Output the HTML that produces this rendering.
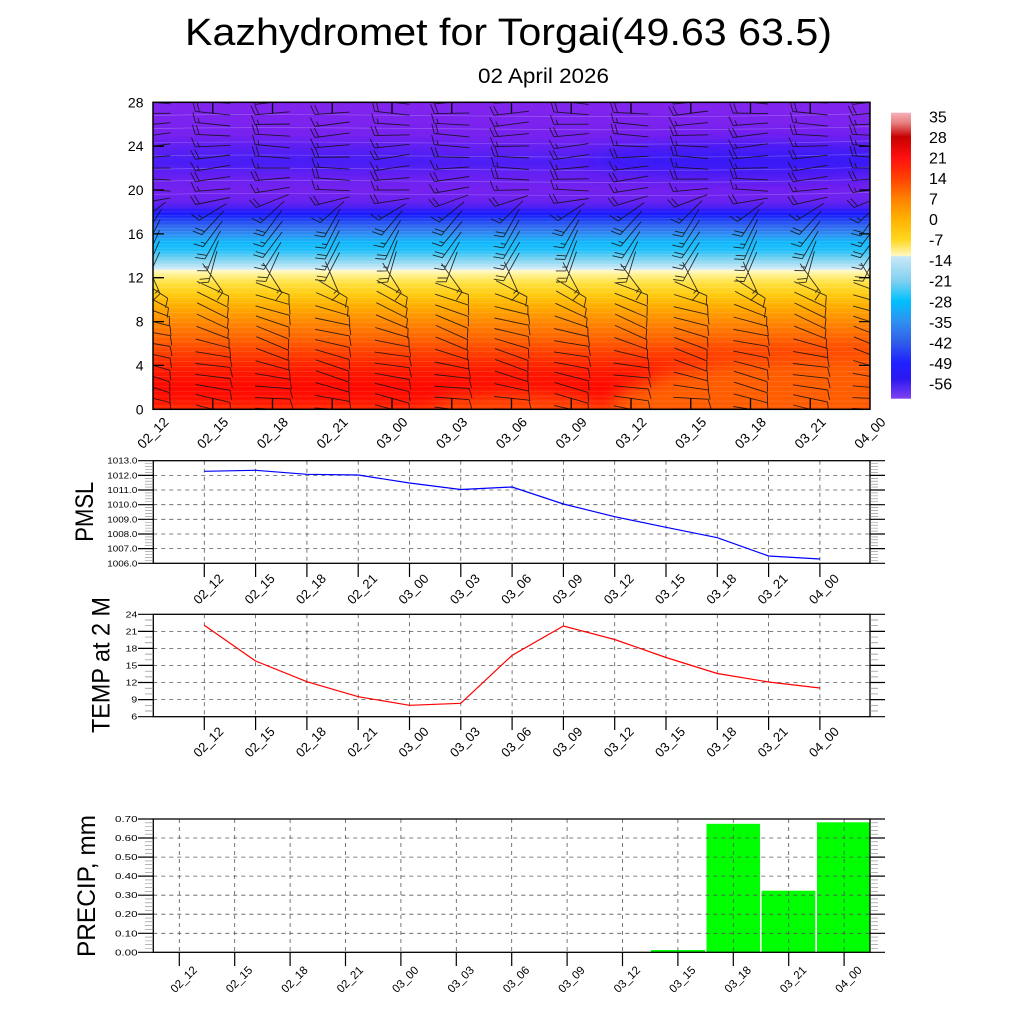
<!DOCTYPE html>
<html>
<head>
<meta charset="utf-8">
<style>
html,body{margin:0;padding:0;background:#fff;}
svg{display:block;}
text{font-family:"Liberation Sans",Arial,sans-serif;fill:#000;}
</style>
</head>
<body>
<svg xmlns="http://www.w3.org/2000/svg" width="1024" height="1024" viewBox="0 0 1024 1024">
<defs>
<linearGradient id="tg" x1="0" y1="0" x2="0" y2="1">
<stop offset="0" stop-color="#8224ee"/>
<stop offset="0.1071" stop-color="#7822ef"/>
<stop offset="0.1607" stop-color="#5e20f3"/>
<stop offset="0.1964" stop-color="#4c1ef6"/>
<stop offset="0.2321" stop-color="#6420f2"/>
<stop offset="0.2857" stop-color="#7622ef"/>
<stop offset="0.3214" stop-color="#6a22f0"/>
<stop offset="0.3429" stop-color="#4a20f4"/>
<stop offset="0.3536" stop-color="#2818fa"/>
<stop offset="0.3643" stop-color="#1818ff"/>
<stop offset="0.3821" stop-color="#2040f4"/>
<stop offset="0.4107" stop-color="#3070f0"/>
<stop offset="0.4357" stop-color="#2a98f4"/>
<stop offset="0.4571" stop-color="#10b8fc"/>
<stop offset="0.4821" stop-color="#20c0fa"/>
<stop offset="0.5071" stop-color="#70d0f2"/>
<stop offset="0.5286" stop-color="#a8e0f4"/>
<stop offset="0.5446" stop-color="#d8eef8"/>
<stop offset="0.5464" stop-color="#fffad0"/>
<stop offset="0.5643" stop-color="#fff088"/>
<stop offset="0.5893" stop-color="#ffe040"/>
<stop offset="0.625" stop-color="#ffcc10"/>
<stop offset="0.6607" stop-color="#ffb000"/>
<stop offset="0.6964" stop-color="#ff9600"/>
<stop offset="0.7321" stop-color="#ff7c00"/>
<stop offset="0.7679" stop-color="#ff6400"/>
<stop offset="0.8036" stop-color="#ff4800"/>
<stop offset="0.8393" stop-color="#ff3000"/>
<stop offset="0.875" stop-color="#ff1a00"/>
<stop offset="0.9286" stop-color="#ff0800"/>
<stop offset="0.9643" stop-color="#ff1000"/>
<stop offset="1" stop-color="#ff2a00"/>
</linearGradient>
<linearGradient id="cb" x1="0" y1="0" x2="0" y2="1">
<stop offset="0" stop-color="#f6b0b8"/>
<stop offset="0.035" stop-color="#e88080"/>
<stop offset="0.085" stop-color="#c80000"/>
<stop offset="0.158" stop-color="#ff1010"/>
<stop offset="0.228" stop-color="#ff4000"/>
<stop offset="0.30" stop-color="#ff8000"/>
<stop offset="0.37" stop-color="#ffb000"/>
<stop offset="0.445" stop-color="#ffd820"/>
<stop offset="0.50" stop-color="#fff8c0"/>
<stop offset="0.503" stop-color="#c8e8f8"/>
<stop offset="0.588" stop-color="#80d0f0"/>
<stop offset="0.659" stop-color="#00c0ff"/>
<stop offset="0.73" stop-color="#3090f0"/>
<stop offset="0.80" stop-color="#3060e8"/>
<stop offset="0.875" stop-color="#2020ff"/>
<stop offset="0.93" stop-color="#2a18f0"/>
<stop offset="1" stop-color="#8040f0"/>
</linearGradient>
<clipPath id="tc"><rect x="153" y="102.3" width="717" height="307"/></clipPath>
<filter id="bl" x="-50%" y="-50%" width="200%" height="200%"><feGaussianBlur stdDeviation="9"/></filter>
</defs>

<!-- Titles -->
<text x="185" y="45" font-size="38" textLength="647" lengthAdjust="spacingAndGlyphs">Kazhydromet for Torgai(49.63 63.5)</text>
<text x="478" y="83" font-size="21" textLength="131" lengthAdjust="spacingAndGlyphs">02 April 2026</text>

<!-- Top panel -->
<rect x="153" y="102.3" width="717" height="307" fill="url(#tg)"/>
<g clip-path="url(#tc)">
  <path d="M600 420 L620 392 L670 372 L730 360 L800 356 L880 352 L880 420 Z" fill="#ff6200" opacity="0.95" filter="url(#bl)"/>
  <path d="M420 420 L450 398 L520 392 L590 398 L600 420 Z" fill="#ff5800" opacity="0.7" filter="url(#bl)"/>
  <ellipse cx="760" cy="160" rx="170" ry="18" fill="#2a18f8" opacity="0.6" filter="url(#bl)"/>
  <ellipse cx="300" cy="156" rx="150" ry="10" fill="#3a1cf6" opacity="0.4" filter="url(#bl)"/>
  <g id="cont" stroke="#ffffff" fill="none" stroke-width="0.7"></g>
  <g id="barbs"></g>
</g>
<rect x="153" y="102.3" width="717" height="307" fill="none" stroke="#000" stroke-width="1.5"/>
<path d="M212.75 102.3v11M272.5 102.3v11M332.25 102.3v11M392 102.3v11M451.75 102.3v11M511.5 102.3v11M571.25 102.3v11M631 102.3v11M690.75 102.3v11M750.5 102.3v11M810.25 102.3v11M212.75 409.3v-11M272.5 409.3v-11M332.25 409.3v-11M392 409.3v-11M451.75 409.3v-11M511.5 409.3v-11M571.25 409.3v-11M631 409.3v-11M690.75 409.3v-11M750.5 409.3v-11M810.25 409.3v-11M153 365.4h11M153 321.6h11M153 277.7h11M153 233.9h11M153 190h11M153 146.2h11M870 365.4h-11M870 321.6h-11M870 277.7h-11M870 233.9h-11M870 190h-11M870 146.2h-11" stroke="#000" stroke-width="1.3" fill="none"/>

<g font-size="14" text-anchor="end">
<text x="143.5" y="414.3">0</text>
<text x="143.5" y="370.4">4</text>
<text x="143.5" y="326.6">8</text>
<text x="143.5" y="282.7">12</text>
<text x="143.5" y="238.9">16</text>
<text x="143.5" y="195">20</text>
<text x="143.5" y="151.2">24</text>
<text x="143.5" y="107.3">28</text>
</g>
<g font-size="13.5" text-anchor="middle" dominant-baseline="central">
<text transform="translate(153,433) rotate(-45)">02_12</text>
<text transform="translate(212.75,433) rotate(-45)">02_15</text>
<text transform="translate(272.5,433) rotate(-45)">02_18</text>
<text transform="translate(332.25,433) rotate(-45)">02_21</text>
<text transform="translate(392,433) rotate(-45)">03_00</text>
<text transform="translate(451.75,433) rotate(-45)">03_03</text>
<text transform="translate(511.5,433) rotate(-45)">03_06</text>
<text transform="translate(571.25,433) rotate(-45)">03_09</text>
<text transform="translate(631,433) rotate(-45)">03_12</text>
<text transform="translate(690.75,433) rotate(-45)">03_15</text>
<text transform="translate(750.5,433) rotate(-45)">03_18</text>
<text transform="translate(810.25,433) rotate(-45)">03_21</text>
<text transform="translate(870,433) rotate(-45)">04_00</text>
</g>

<!-- Colorbar -->
<rect x="891" y="112.7" width="20" height="286" fill="url(#cb)"/>
<g font-size="16">
<text x="929" y="122.3">35</text>
<text x="929" y="142.85">28</text>
<text x="929" y="163.4">21</text>
<text x="929" y="183.95">14</text>
<text x="929" y="204.5">7</text>
<text x="929" y="225.05">0</text>
<text x="929" y="245.6">-7</text>
<text x="929" y="266.15">-14</text>
<text x="929" y="286.7">-21</text>
<text x="929" y="307.25">-28</text>
<text x="929" y="327.8">-35</text>
<text x="929" y="348.35">-42</text>
<text x="929" y="368.9">-49</text>
<text x="929" y="389.45">-56</text>
</g>

<!-- PMSL panel -->
<path d="M204.3 460.7V563.3M255.6 460.7V563.3M306.9 460.7V563.3M358.2 460.7V563.3M409.5 460.7V563.3M460.8 460.7V563.3M512.1 460.7V563.3M563.4 460.7V563.3M614.7 460.7V563.3M666 460.7V563.3M717.3 460.7V563.3M768.6 460.7V563.3M819.9 460.7V563.3M153.3 475.4H870M153.3 490H870M153.3 504.7H870M153.3 519.3H870M153.3 534H870M153.3 548.6H870" stroke="#555" stroke-width="0.8" stroke-dasharray="4,4" fill="none"/>
<polyline points="204.3,471.3 255.6,470.3 306.9,474.3 358.2,475 409.5,483 460.8,489.5 512.1,487 563.4,504 614.7,516.7 666,527.3 717.3,537.7 768.6,556 819.9,559" fill="none" stroke="#0000ff" stroke-width="1.2"/>
<rect x="153.3" y="460.7" width="716.7" height="102.6" fill="none" stroke="#000" stroke-width="1.3"/>
<path d="M204.3 563.3V577M255.6 563.3V577M306.9 563.3V577M358.2 563.3V577M409.5 563.3V577M460.8 563.3V577M512.1 563.3V577M563.4 563.3V577M614.7 563.3V577M666 563.3V577M717.3 563.3V577M768.6 563.3V577M819.9 563.3V577M138 460.7H153.3M138 475.4H153.3M138 490H153.3M138 504.7H153.3M138 519.3H153.3M138 534H153.3M138 548.6H153.3M138 563.3H153.3M870 460.7H885M870 475.4H885M870 490H885M870 504.7H885M870 519.3H885M870 534H885M870 548.6H885M870 563.3H885" stroke="#000" stroke-width="1.2" fill="none"/>
<g id="minP" stroke="#888" stroke-width="0.6"></g>
<g font-size="8" text-anchor="end">
<text x="137.3" y="463.7" textLength="30" lengthAdjust="spacingAndGlyphs">1013.0</text>
<text x="137.3" y="478.4" textLength="30" lengthAdjust="spacingAndGlyphs">1012.0</text>
<text x="137.3" y="493" textLength="30" lengthAdjust="spacingAndGlyphs">1011.0</text>
<text x="137.3" y="507.7" textLength="30" lengthAdjust="spacingAndGlyphs">1010.0</text>
<text x="137.3" y="522.3" textLength="30" lengthAdjust="spacingAndGlyphs">1009.0</text>
<text x="137.3" y="537" textLength="30" lengthAdjust="spacingAndGlyphs">1008.0</text>
<text x="137.3" y="551.6" textLength="30" lengthAdjust="spacingAndGlyphs">1007.0</text>
<text x="137.3" y="566.3" textLength="30" lengthAdjust="spacingAndGlyphs">1006.0</text>
</g>
<g font-size="13" text-anchor="middle" dominant-baseline="central">
<text transform="translate(208.3,589) rotate(-45)">02_12</text>
<text transform="translate(259.6,589) rotate(-45)">02_15</text>
<text transform="translate(310.9,589) rotate(-45)">02_18</text>
<text transform="translate(362.2,589) rotate(-45)">02_21</text>
<text transform="translate(413.5,589) rotate(-45)">03_00</text>
<text transform="translate(464.8,589) rotate(-45)">03_03</text>
<text transform="translate(516.1,589) rotate(-45)">03_06</text>
<text transform="translate(567.4,589) rotate(-45)">03_09</text>
<text transform="translate(618.7,589) rotate(-45)">03_12</text>
<text transform="translate(670,589) rotate(-45)">03_15</text>
<text transform="translate(721.3,589) rotate(-45)">03_18</text>
<text transform="translate(772.6,589) rotate(-45)">03_21</text>
<text transform="translate(823.9,589) rotate(-45)">04_00</text>
</g>
<text transform="translate(93,511.7) rotate(-90)" font-size="25" text-anchor="middle" textLength="60" lengthAdjust="spacingAndGlyphs">PMSL</text>

<!-- TEMP panel -->
<path d="M204.3 614.3V716.7M255.6 614.3V716.7M306.9 614.3V716.7M358.2 614.3V716.7M409.5 614.3V716.7M460.8 614.3V716.7M512.1 614.3V716.7M563.4 614.3V716.7M614.7 614.3V716.7M666 614.3V716.7M717.3 614.3V716.7M768.6 614.3V716.7M819.9 614.3V716.7M153.3 631.4H870M153.3 648.4H870M153.3 665.4H870M153.3 682.5H870M153.3 699.6H870" stroke="#555" stroke-width="0.8" stroke-dasharray="4,4" fill="none"/>
<polyline points="204.3,625.3 255.6,661 306.9,681.7 358.2,696.7 409.5,705.3 460.8,703.3 512.1,655.3 563.4,626 614.7,639.5 666,657.5 717.3,673.5 768.6,682 819.9,688" fill="none" stroke="#ff0000" stroke-width="1.2"/>
<rect x="153.3" y="614.3" width="716.7" height="102.4" fill="none" stroke="#000" stroke-width="1.3"/>
<path d="M204.3 716.7V730M255.6 716.7V730M306.9 716.7V730M358.2 716.7V730M409.5 716.7V730M460.8 716.7V730M512.1 716.7V730M563.4 716.7V730M614.7 716.7V730M666 716.7V730M717.3 716.7V730M768.6 716.7V730M819.9 716.7V730M138 614.3H153.3M138 631.4H153.3M138 648.4H153.3M138 665.4H153.3M138 682.5H153.3M138 699.6H153.3M138 716.7H153.3M870 614.3H885M870 631.4H885M870 648.4H885M870 665.4H885M870 682.5H885M870 699.6H885M870 716.7H885" stroke="#000" stroke-width="1.2" fill="none"/>
<g id="minT" stroke="#888" stroke-width="0.7"></g>
<g font-size="8" text-anchor="end">
<text x="137.3" y="617.3" textLength="11.6" lengthAdjust="spacingAndGlyphs">24</text>
<text x="137.3" y="634.4" textLength="11.6" lengthAdjust="spacingAndGlyphs">21</text>
<text x="137.3" y="651.4" textLength="11.6" lengthAdjust="spacingAndGlyphs">18</text>
<text x="137.3" y="668.4" textLength="11.6" lengthAdjust="spacingAndGlyphs">15</text>
<text x="137.3" y="685.5" textLength="11.6" lengthAdjust="spacingAndGlyphs">12</text>
<text x="137.3" y="702.6" textLength="6" lengthAdjust="spacingAndGlyphs">9</text>
<text x="137.3" y="719.7" textLength="6" lengthAdjust="spacingAndGlyphs">6</text>
</g>
<g font-size="13" text-anchor="middle" dominant-baseline="central">
<text transform="translate(208.3,742) rotate(-45)">02_12</text>
<text transform="translate(259.6,742) rotate(-45)">02_15</text>
<text transform="translate(310.9,742) rotate(-45)">02_18</text>
<text transform="translate(362.2,742) rotate(-45)">02_21</text>
<text transform="translate(413.5,742) rotate(-45)">03_00</text>
<text transform="translate(464.8,742) rotate(-45)">03_03</text>
<text transform="translate(516.1,742) rotate(-45)">03_06</text>
<text transform="translate(567.4,742) rotate(-45)">03_09</text>
<text transform="translate(618.7,742) rotate(-45)">03_12</text>
<text transform="translate(670,742) rotate(-45)">03_15</text>
<text transform="translate(721.3,742) rotate(-45)">03_18</text>
<text transform="translate(772.6,742) rotate(-45)">03_21</text>
<text transform="translate(823.9,742) rotate(-45)">04_00</text>
</g>
<text transform="translate(109.5,665) rotate(-90)" font-size="25" text-anchor="middle" textLength="136" lengthAdjust="spacingAndGlyphs">TEMP at 2 M</text>

<!-- PRECIP panel -->
<g fill="#00ff00">
<rect x="651" y="950" width="54" height="2.3"/>
<rect x="706.5" y="823.8" width="53.5" height="128.5"/>
<rect x="761.6" y="890.7" width="53.7" height="61.6"/>
<rect x="817" y="822.3" width="53" height="130"/>
</g>
<path d="M179.3 819V952.3M234.7 819V952.3M290.1 819V952.3M345.5 819V952.3M400.9 819V952.3M456.3 819V952.3M511.7 819V952.3M567.1 819V952.3M622.5 819V952.3M677.9 819V952.3M733.3 819V952.3M788.7 819V952.3M844.1 819V952.3M153.3 838H870M153.3 857.1H870M153.3 876.1H870M153.3 895.2H870M153.3 914.2H870M153.3 933.3H870" stroke="#555" stroke-width="0.8" stroke-dasharray="4,4" fill="none"/>
<rect x="153.3" y="819" width="716.7" height="133.3" fill="none" stroke="#000" stroke-width="1.3"/>
<path d="M179.3 952.3V966M234.7 952.3V966M290.1 952.3V966M345.5 952.3V966M400.9 952.3V966M456.3 952.3V966M511.7 952.3V966M567.1 952.3V966M622.5 952.3V966M677.9 952.3V966M733.3 952.3V966M788.7 952.3V966M844.1 952.3V966M138 819H153.3M138 838H153.3M138 857.1H153.3M138 876.1H153.3M138 895.2H153.3M138 914.2H153.3M138 933.3H153.3M138 952.3H153.3M870 819H885M870 838H885M870 857.1H885M870 876.1H885M870 895.2H885M870 914.2H885M870 933.3H885M870 952.3H885" stroke="#000" stroke-width="1.2" fill="none"/>
<g id="minR" stroke="#888" stroke-width="0.6"></g>
<g font-size="8" text-anchor="end">
<text x="137.5" y="822" textLength="22.5" lengthAdjust="spacingAndGlyphs">0.70</text>
<text x="137.5" y="841" textLength="22.5" lengthAdjust="spacingAndGlyphs">0.60</text>
<text x="137.5" y="860.1" textLength="22.5" lengthAdjust="spacingAndGlyphs">0.50</text>
<text x="137.5" y="879.1" textLength="22.5" lengthAdjust="spacingAndGlyphs">0.40</text>
<text x="137.5" y="898.2" textLength="22.5" lengthAdjust="spacingAndGlyphs">0.30</text>
<text x="137.5" y="917.2" textLength="22.5" lengthAdjust="spacingAndGlyphs">0.20</text>
<text x="137.5" y="936.3" textLength="22.5" lengthAdjust="spacingAndGlyphs">0.10</text>
<text x="137.5" y="955.3" textLength="22.5" lengthAdjust="spacingAndGlyphs">0.00</text>
</g>
<g font-size="11.5" text-anchor="middle" dominant-baseline="central">
<text transform="translate(184.3,980) rotate(-45)">02_12</text>
<text transform="translate(239.7,980) rotate(-45)">02_15</text>
<text transform="translate(295.1,980) rotate(-45)">02_18</text>
<text transform="translate(350.5,980) rotate(-45)">02_21</text>
<text transform="translate(405.9,980) rotate(-45)">03_00</text>
<text transform="translate(461.3,980) rotate(-45)">03_03</text>
<text transform="translate(516.7,980) rotate(-45)">03_06</text>
<text transform="translate(572.1,980) rotate(-45)">03_09</text>
<text transform="translate(627.5,980) rotate(-45)">03_12</text>
<text transform="translate(682.9,980) rotate(-45)">03_15</text>
<text transform="translate(738.3,980) rotate(-45)">03_18</text>
<text transform="translate(793.7,980) rotate(-45)">03_21</text>
<text transform="translate(849.1,980) rotate(-45)">04_00</text>
</g>
<text transform="translate(95,886) rotate(-90)" font-size="25" text-anchor="middle" textLength="142" lengthAdjust="spacingAndGlyphs">PRECIP, mm</text>
</svg>

<script>
(function(){
  var NS="http://www.w3.org/2000/svg";
  function addPath(gid,d,attrs){
    var g=document.getElementById(gid);
    var p=document.createElementNS(NS,"path");
    p.setAttribute("d",d);
    if(attrs){for(var k in attrs){p.setAttribute(k,attrs[k]);}}
    g.appendChild(p);
  }
  function ang(z){
    var k=[[0,8],[3,12],[6,16],[9,20],[11,26],[12,60],[13,112],[15,120],[17,126],[18,142],[19,165],[20,177],[28,180]];
    for(var j=0;j<k.length-1;j++){
      if(z<=k[j+1][0]){var t=(z-k[j][0])/(k[j+1][0]-k[j][0]);return k[j][1]+t*(k[j+1][1]-k[j][1]);}
    }
    return 180;
  }
  var d="";
  for(var i=0;i<13;i++){
    var cx=153+59.75*i;
    for(var z=0;z<=28;z++){
      var cy=409.3-z*10.964;
      var th=(ang(z)+Math.sin(i*1.9+z*0.7)*7)*Math.PI/180;
      var ux=Math.cos(th),uy=Math.sin(th);
      var L=(z>=13&&z<19)?32:35,h=L/2;
      var ex=cx+h*ux,ey=cy+h*uy;
      d+="M"+(cx-h*ux).toFixed(1)+" "+(cy-h*uy).toFixed(1)+"L"+ex.toFixed(1)+" "+ey.toFixed(1);
      var fa=th+70*Math.PI/180,fx=Math.cos(fa),fy=Math.sin(fa);
      var nf=(z>=12)?2:1;
      for(var k=0;k<nf;k++){
        var px=ex-k*4*ux,py=ey-k*4*uy;
        var fl=(k==nf-1&&nf>1&&z%2==0)?5:10;
        d+="M"+px.toFixed(1)+" "+py.toFixed(1)+"l"+(fl*fx).toFixed(1)+" "+(fl*fy).toFixed(1);
      }
    }
  }
  addPath("barbs",d,{stroke:"#111",fill:"none","stroke-width":"0.9","stroke-opacity":"0.85"});
  var c="";
  for(var zz=0.3;zz<12.6;zz+=0.45){var y=409.3-zz*10.964;c+="M153 "+y.toFixed(1)+"H870";}
  for(var zz=12.9;zz<18.3;zz+=0.3){var y=409.3-zz*10.964;c+="M153 "+y.toFixed(1)+"H870";}
  addPath("cont",c,{"stroke-opacity":"0.14"});
  var c2="";
  var ups=[19.6,20.8,21.9,23.1,24.3,25.6,26.8];
  for(var u=0;u<ups.length;u++){
    var y=409.3-ups[u]*10.964;
    c2+="M153 "+y.toFixed(1)+"C350 "+(y-4).toFixed(1)+" 600 "+(y+6).toFixed(1)+" 870 "+(y-2).toFixed(1);
  }
  addPath("cont",c2,{"stroke-opacity":"0.25"});
  var m="";
  for(var v=1006.2;v<1013;v+=0.2){
    if(Math.abs(v-Math.round(v))<0.01)continue;
    var y=460.7+(1013-v)*14.657;
    m+="M145 "+y.toFixed(2)+"H153.3M870 "+y.toFixed(2)+"H878";
  }
  addPath("minP",m);
  m="";
  for(var t=7;t<24;t++){
    if(t%3==0)continue;
    var y=614.3+(24-t)*5.689;
    m+="M145 "+y.toFixed(2)+"H153.3M870 "+y.toFixed(2)+"H878";
  }
  addPath("minT",m);
  m="";
  for(var q=1;q<35;q++){
    if(q%5==0)continue;
    var y=952.3-q*0.02*190.43;
    m+="M145 "+y.toFixed(2)+"H153.3M870 "+y.toFixed(2)+"H878";
  }
  addPath("minR",m);
})();
</script>
</body>
</html>
